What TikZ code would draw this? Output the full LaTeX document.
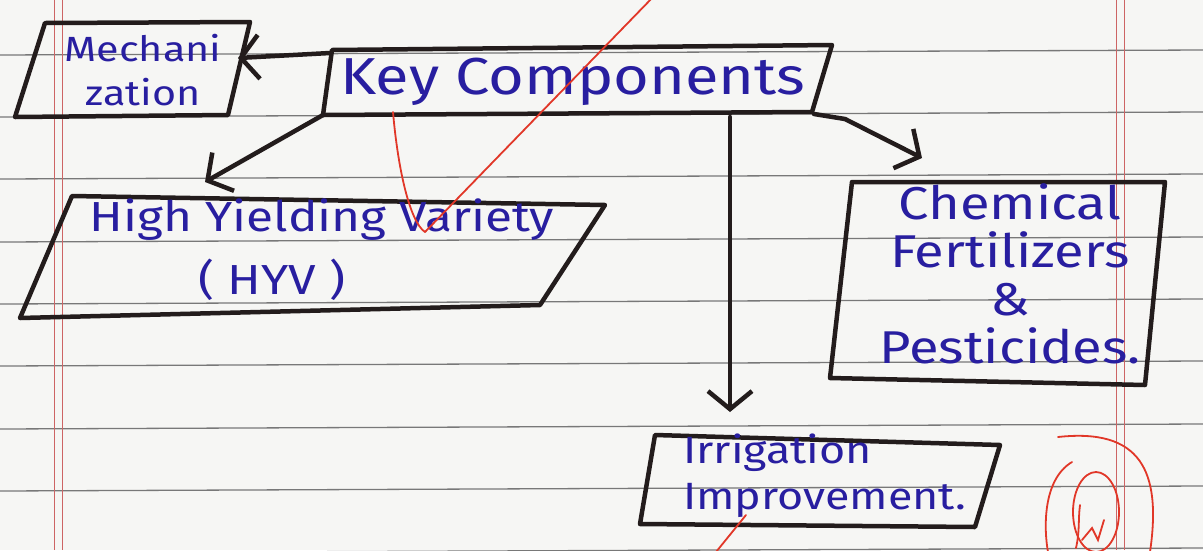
\documentclass[tikz,border=0pt]{standalone}
\usepackage{fontspec}
\setmainfont{Fira Sans}
\newfontfamily\hand[FakeStretch=1.18]{Fira Sans}
\usetikzlibrary{arrows.meta}
\definecolor{ink}{RGB}{40,30,160}
\definecolor{pen}{RGB}{35,28,28}
\definecolor{rulec}{RGB}{120,120,120}
\definecolor{marginc}{RGB}{205,100,100}
\definecolor{markc}{RGB}{225,55,40}
\definecolor{paper}{RGB}{246,246,244}
\begin{document}
\begin{tikzpicture}[x=1pt,y=-1pt,
  box/.style={draw=pen,line width=4.5pt,line join=round,line cap=round},
  link/.style={draw=pen,line width=4.5pt,line join=round,line cap=round,
    -{Straight Barb[length=18pt,width=44pt]}},
  lbl/.style={text=ink,inner sep=0pt,align=center},
  redpen/.style={draw=markc,line width=1.8pt,line cap=round}]
\fill[paper] (0,0) rectangle (1203,550);
\useasboundingbox (0,0) rectangle (1203,550);
% ruled paper
\foreach \yy in {-9,53,115,177,240,302,364,427,489,551}
  \draw[rulec,line width=1.3pt] (0,\yy+2) -- (1203,\yy-3);
\foreach \xx in {54,62,1116,1124}
  \draw[marginc,line width=0.8pt] (\xx,0) -- (\xx,550);
% boxes
\draw[box] (45,23) -- (250,22) -- (228,115) -- (15,117) -- cycle;
\draw[box] (332,50) -- (832,45) -- (812,112) -- (323,115) -- cycle;
\draw[box] (72,196) -- (605,205) -- (540,305) -- (20,318) -- cycle;
\draw[box] (852,182) -- (1165,182) -- (1145,385) -- (830,378) -- cycle;
\draw[box] (655,435) -- (1000,445) -- (975,527) -- (640,524) -- cycle;
% labels
\node[lbl,font=\hand\fontsize{35}{44}\selectfont] (mech) at (143,70) {Mechani\\zation};
\node[lbl,font=\hand\fontsize{52}{60}\selectfont] (key) at (573,82) {Key Components};
\node[lbl,font=\hand\fontsize{42}{48}\selectfont] (hyv) at (322,220) {High Yielding Variety};
\node[lbl,font=\hand\fontsize{42}{48}\selectfont] (hyvb) at (272,280) {( HYV )};
\node[lbl,font=\hand\fontsize{46}{48}\selectfont] (chem) at (1010,274) {Chemical\\Fertilizers\\\&\\Pesticides.};
\node[lbl,align=left,font=\hand\fontsize{38}{46}\selectfont,anchor=west] (irr) at (683,476) {Irrigation\\Improvement.};
% connectors
\coordinate (kL) at (330,53);
\coordinate (mR) at (238,58);
\coordinate (kBL) at (323,115);
\coordinate (hT) at (205,182);
\coordinate (kB) at (730,117);
\coordinate (iT) at (730,412);
\coordinate (kBR) at (814,114);
\coordinate (kBend) at (845,119);
\coordinate (cT) at (922,158);
\draw[link] (kL) -- (mR);
\draw[link] (kBL) -- (hT);
\draw[link] (kB) -- (iT);
\draw[link] (kBR) -- (kBend) -- (cT);
% teacher's red marks
\draw[redpen] (655,-5) -- (425,232);
\draw[redpen] (393,112) .. controls (398,170) and (410,222) .. (425,232);
\draw[redpen] (746,515) -- (716,552);
\draw[redpen] (1058,437) .. controls (1140,428) and (1162,470) .. (1150,552);
\draw[redpen] (1072,462) .. controls (1042,480) and (1044,530) .. (1048,552);
\draw[redpen] (1096,512) ellipse [x radius=23, y radius=40];
\draw[redpen] (1076,548) .. controls (1080,530) and (1078,520) .. (1080,505);
\draw[redpen] (1082,540) -- (1092,528) -- (1098,540) -- (1104,520);
\end{tikzpicture}
\end{document}
